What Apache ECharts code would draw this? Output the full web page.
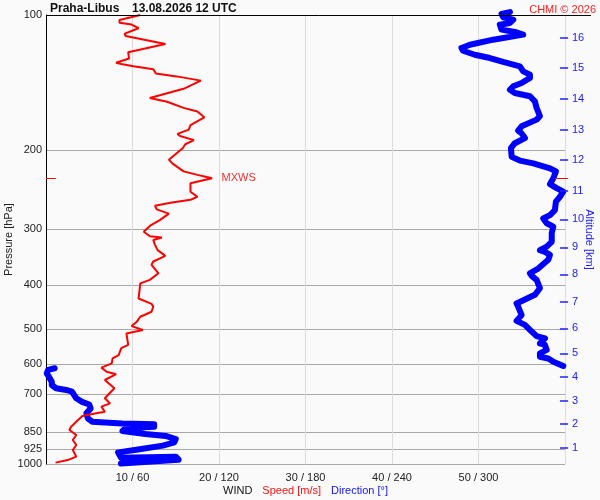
<!DOCTYPE html>
<html><head><meta charset="utf-8">
<script src="https://cdn.jsdelivr.net/npm/echarts@6/dist/echarts.min.js"></script>
<style>html,body{margin:0;padding:0;background:#fafafa}#c{width:600px;height:500px}</style>
</head><body><div id="c"></div>
<script>
// Wind speed profile (m/s) vs pressure (hPa), bottom to top
const speedP = [993,980,963,931,907,884,862,840,826,805,782,771,765,745,733,714,678,650,631,623,610,605,597,582,572,552,543,512,503,493,482,470,458,446,440,428,396,389,376,360,354,344,334,325,317,313,311,304,295,286,277,271,266,262,258,254,247.5,237,231,227,223,214,210,198,194,190,186,184,180,176,169,164,161,156,153,146,140,137,135,132,130,128.6,127.7,125,121,116,111.4,110,107,105,104,102.6,100];
const speedV = [1.1,2.5,3.5,3.1,3.5,3.1,3.5,2.7,2.9,3.5,4.2,5.8,6.8,6.4,7.4,6.8,7.9,6.8,8.1,7.0,6.4,6.3,7.6,7.7,8.4,8.7,9.5,9.3,11.2,9.9,10.5,10.9,12.2,12.4,12.2,10.7,10.9,12.0,13.0,12.2,12.4,13.8,12.9,12.6,12.4,13.4,12.0,11.3,12.0,13.2,14.2,12.8,12.6,14.4,16.7,17.5,16.7,16.7,19.2,17.5,15.9,14.6,14.2,15.8,16.1,17.1,15.5,15.2,16.5,16.7,18.3,17.5,15.9,14.0,12.0,15.9,17.9,15.1,12.7,12.4,10.1,8.7,8.1,9.6,9.5,13.8,9.2,9.1,10.7,9.9,8.5,8.5,10.9];
// Wind direction (deg), lower part (before wrapping past 0/360)
const dirLowP = [998,978,963,968,942,927,910,895,880,866,857,844,833,826,816,812,805,791,771,752,737,727,714,690,684,678,667,656,639,628,617,612];
const dirLowV = [52,92,90,52,50,65,81,89,90,83,69,53,55,75,75,53,32,29,28,31,30,25,21,18,14,7,4,4,2,0.5,1.5,6];
// Wind direction (deg), upper part
const dirUpP = [605,592,582,577,567,557,543,538.5,525,519,507,490,480,466,446,439,430,420,406,389,381,376,367,351,342,337,334,328,320,306,296,291,284,279,272,260.5,254,247.5,243,238,231,223,219.5,214,211,207,198,193,188,183.5,181,177,171,168,161,155.7,151.7,149.2,146.7,144.1,141.7,138.1,135.8,133.5,130.1,127.2,124.7,122.6,120.1,118.4,116.5,113.5,110.6,109.1,107.8,105.1,104.2,102.4,101.2,99.5,98.5];
const dirUpV = [358.8,351.9,348.4,342.6,342.6,347.3,346.1,342.6,346.1,340.3,336.9,332.2,326.4,329.9,327.5,326.4,332.2,339.1,342.6,340.3,336.9,335.7,341.4,348.4,349.6,346.1,342.6,347.3,350.8,350.8,351.9,347.3,344.9,349.6,353.0,353.7,356.5,358.8,354.2,349.6,351.9,353.7,349.6,338.0,328.7,323.0,322.5,325.2,332.2,329.9,327.5,329.9,340.3,342.6,340.3,339.1,335.7,325.2,321.8,324.1,329.9,335.7,335.7,331.0,328.7,317.1,307.9,297.4,289.3,288.2,294.0,310.2,331.0,325.2,316.0,314.8,321.8,324.1,317.1,316.0,321.8];
// Axis ticks
const pressureTicks = [100,200,300,400,500,600,700,850,925,1000];
const altKm = [1,2,3,4,5,6,7,8,9,10,11,12,13,14,15,16];
const altP = [919.7,814.5,722.8,639.2,567,498.7,435.1,378.1,329.2,285.1,246.3,210.3,180.3,153.8,131.4,112.3];
// Max wind
const mxwsSpeed = [19.2];
const mxwsP = [231];

const chart = echarts.init(document.getElementById('c'));
const FONT = 'Liberation Sans, Arial, sans-serif';
function altLabel(v){
  let best = 0, bd = Infinity;
  altP.forEach((p,i)=>{ const d = Math.abs(Math.log(p)-Math.log(v)); if(d<bd){bd=d;best=i;} });
  return String(altKm[best]);
}
// decoration overlay grid spans x 46..591 as fraction 0..1
const blueTick = { color: '#2020ff', width: 1.5, type: 'solid' };
const redTick = { color: '#ff0000', width: 1, type: 'solid' };
const blackLine = { color: '#000', width: 1, type: 'solid' };
const decoLines = [
  [{ coord: [0, 100], lineStyle: blackLine }, { coord: [1, 100] }],
  [{ coord: [0, mxwsP[0]], lineStyle: redTick }, { coord: [0.018, mxwsP[0]] }],
  [{ coord: [0.934, mxwsP[0]], lineStyle: redTick }, { coord: [0.958, mxwsP[0]] }]
].concat(altP.map(p => [{ coord: [0.943, p], lineStyle: blueTick }, { coord: [0.958, p] }]));

const option = {
  animation: false,
  backgroundColor: '#fafafa',
  textStyle: { fontFamily: FONT },
  title: [
    { text: 'Praha-Libus', left: 45, top: -2, textStyle: { fontSize: 12, fontWeight: 'bold', color: '#111', fontFamily: FONT } },
    { text: '13.08.2026 12 UTC', left: 127, top: -2, textStyle: { fontSize: 12, fontWeight: 'bold', color: '#111', fontFamily: FONT } },
    { text: 'CHMI © 2026', right: -1, top: -1, textStyle: { fontSize: 11, fontWeight: 'normal', color: '#ff2020', fontFamily: FONT } }
  ],
  grid: [
    { left: 46, right: 35, top: 15, bottom: 36, outerBoundsMode: 'none', containLabel: false },
    { left: 46, right: 9, top: 15, bottom: 36, outerBoundsMode: 'none', containLabel: false }
  ],
  xAxis: [
    {
      type: 'value', min: 0, max: 60, interval: 10, position: 'bottom',
      axisLine: { show: false }, axisTick: { show: false },
      axisLabel: { margin: 8, fontSize: 11, color: '#222', formatter: v => (v === 0 || v === 60) ? '' : (v + ' / ' + v * 6) },
      splitLine: { show: true, lineStyle: { color: '#dcdcdc', width: 1 } },
      name: '{a|WIND}   {b|Speed [m/s]}   {c|Direction [°]}',
      nameLocation: 'middle', nameGap: 21, nameMoveOverlap: false,
      nameTextStyle: { rich: {
        a: { color: '#111', fontSize: 11, fontFamily: FONT },
        b: { color: '#ff1010', fontSize: 11, fontFamily: FONT },
        c: { color: '#1010ff', fontSize: 11, fontFamily: FONT }
      } }
    },
    {
      type: 'value', min: 0, max: 60, position: 'top',
      axisLine: { show: false }, axisTick: { show: false }, axisLabel: { show: false }, splitLine: { show: false }
    },
    { type: 'value', min: 0, max: 360, show: false },
    { type: 'value', gridIndex: 1, min: 0, max: 1, show: false }
  ],
  yAxis: [
    {
      type: 'log', logBase: 10, min: 100, max: 1000, inverse: true, position: 'left',
      axisLine: { show: true, lineStyle: { color: '#000', width: 1 } },
      axisTick: { show: false, customValues: pressureTicks },
      axisLabel: { customValues: pressureTicks, margin: 4, fontSize: 11, color: '#222', formatter: v => String(Math.round(v)) },
      splitLine: { show: true, lineStyle: { color: '#a8a8a8', width: 1 } },
      minorSplitLine: { show: false },
      name: 'Pressure [hPa]', nameLocation: 'middle', nameGap: 32, nameMoveOverlap: false,
      nameTextStyle: { fontSize: 11, color: '#222' }
    },
    {
      type: 'log', logBase: 10, min: 100, max: 1000, inverse: true, position: 'right', offset: 0,
      axisLine: { show: false },
      axisTick: { show: false, customValues: altP },
      axisLabel: { customValues: altP, margin: 7, fontSize: 11, color: '#2020ff', formatter: v => altLabel(v) },
      splitLine: { show: false },
      name: 'Altitude [km]', nameLocation: 'middle', nameGap: 19, nameRotate: -90, nameMoveOverlap: false,
      nameTextStyle: { fontSize: 11, color: '#2020ff' }
    },
    { type: 'log', logBase: 10, gridIndex: 1, min: 100, max: 1000, inverse: true, show: false }
  ],
  series: [
    {
      name: 'Direction', type: 'line', xAxisIndex: 2, yAxisIndex: 0, clip: false,
      data: dirLowV.map((v, i) => [v, dirLowP[i]]),
      symbol: 'none', smooth: false,
      lineStyle: { color: '#0000ff', width: 6, cap: 'round', join: 'round' }, z: 3
    },
    {
      name: 'Direction', type: 'line', xAxisIndex: 2, yAxisIndex: 0, clip: false,
      data: dirUpV.map((v, i) => [v, dirUpP[i]]),
      symbol: 'none', smooth: false,
      lineStyle: { color: '#0000ff', width: 6, cap: 'round', join: 'round' }, z: 3
    },
    {
      name: 'Speed', type: 'line', xAxisIndex: 0, yAxisIndex: 0, clip: false,
      data: speedV.map((v, i) => [v, speedP[i]]),
      symbol: 'none', smooth: false,
      lineStyle: { color: '#ff0000', width: 2 }, z: 4,
      markPoint: {
        silent: true, symbol: 'circle', symbolSize: 1,
        itemStyle: { color: 'rgba(0,0,0,0)' },
        label: { show: true, position: 'right', distance: 9, formatter: 'MXWS', color: '#f03030', fontSize: 11, fontFamily: FONT },
        data: [{ coord: [mxwsSpeed[0], mxwsP[0]] }]
      }
    },
    {
      name: 'deco', type: 'line', xAxisIndex: 3, yAxisIndex: 2, data: [], z: 5,
      markLine: {
        silent: true, symbol: 'none', animation: false,
        label: { show: false },
        data: decoLines
      }
    }
  ]
};
chart.setOption(option);
</script>
</body></html>
